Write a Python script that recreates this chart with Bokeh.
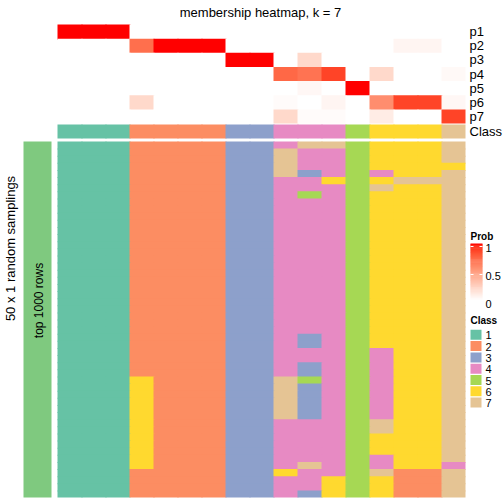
from bokeh.plotting import figure
from bokeh.models import Range1d
from bokeh.core.properties import value
from bokeh.embed import file_html
from bokeh.resources import INLINE
import math

# ---------------- data ----------------
title = "membership heatmap, k = 7"
row_labels = ["p1", "p2", "p3", "p4", "p5", "p6", "p7"]
class_top = [1, 1, 1, 2, 2, 2, 2, 3, 3, 4, 4, 4, 5, 6, 6, 6, 7]
p1 = [1, 1, 1, 0, 0, 0, 0, 0, 0, 0, 0, 0, 0, 0, 0, 0, 0]
p2 = [0, 0, 0, 0.72, 1, 1, 1, 0, 0, 0, 0, 0, 0, 0, 0.05, 0.05, 0]
p3 = [0, 0, 0, 0, 0, 0, 0, 1, 1, 0, 0.2, 0, 0, 0, 0, 0, 0]
p4 = [0, 0, 0, 0, 0, 0, 0, 0, 0, 0.75, 0.7, 0.88, 0, 0.2, 0, 0, 0.03]
p5 = [0, 0, 0, 0, 0, 0, 0, 0, 0, 0, 0.04, 0, 1, 0, 0, 0, 0]
p6 = [0, 0, 0, 0.2, 0, 0, 0, 0, 0, 0.02, 0, 0.05, 0, 0.58, 0.88, 0.88, 0.04]
p7 = [0, 0, 0, 0, 0, 0, 0, 0, 0, 0.2, 0.02, 0.02, 0, 0.1, 0, 0, 0.88]
probs = [p1, p2, p3, p4, p5, p6, p7]

# 50 random samplings x 17 samples (class per cell)
samplings = (
    ["11122223347756667",
     "11122223374456667",
     "11122223374456667",
     "11122223374456666",
     "11122223373454667",
     "11122223344656777",
     "11122223344457667",
     "11122223345456667"]
    + ["11122223344456667"] * 19
    + ["11122223343456667"] * 2
    + ["11122223344454667"] * 2
    + ["11122223343454667"] * 2
    + ["11162223375454667"]
    + ["11162223373454667"] * 5
    + ["11162223344457667"] * 2
    + ["11162223344456667"] * 3
    + ["11162223344454667",
       "11162223347454664",
       "11122223364457227",
       "11122223344656227",
       "11122223344656227",
       "11122223343656227"]
)

class_colors = {1: "#66C2A5", 2: "#FC8D62", 3: "#8DA0CB", 4: "#E78AC3",
                5: "#A6D854", 6: "#FFD92F", 7: "#E5C494"}
legend_ticks = [1, 0.5, 0]
left_label = "50 x 1 random samplings"
group_label = "top 1000 rows"

# ---------------- colour ramp (white -> red in LAB) ----------------
def _srgb2lin(c):
    c = c / 255.0
    return c / 12.92 if c <= 0.04045 else ((c + 0.055) / 1.055) ** 2.4

def _lin2srgb(c):
    c = max(0.0, min(1.0, c))
    v = 12.92 * c if c <= 0.0031308 else 1.055 * c ** (1 / 2.4) - 0.055
    return int(round(v * 255))

WX, WY, WZ = 0.95047, 1.0, 1.08883

def rgb2lab(rgb):
    r, g, b = (_srgb2lin(v) for v in rgb)
    X = 0.4124564 * r + 0.3575761 * g + 0.1804375 * b
    Y = 0.2126729 * r + 0.7151522 * g + 0.0721750 * b
    Z = 0.0193339 * r + 0.1191920 * g + 0.9503041 * b
    def f(t):
        return t ** (1 / 3) if t > 216 / 24389 else (24389 / 27 * t + 16) / 116
    fx, fy, fz = f(X / WX), f(Y / WY), f(Z / WZ)
    return (116 * fy - 16, 500 * (fx - fy), 200 * (fy - fz))

def lab2rgb(lab):
    L, a, b = lab
    fy = (L + 16) / 116
    fx = fy + a / 500
    fz = fy - b / 200
    def finv(t):
        return t ** 3 if t ** 3 > 216 / 24389 else (116 * t - 16) / (24389 / 27)
    X, Y, Z = WX * finv(fx), WY * finv(fy), WZ * finv(fz)
    r = 3.2404542 * X - 1.5371385 * Y - 0.4985314 * Z
    g = -0.9692660 * X + 1.8760108 * Y + 0.0415560 * Z
    bb = 0.0556434 * X - 0.2040259 * Y + 1.0572252 * Z
    return "#%02x%02x%02x" % (_lin2srgb(r), _lin2srgb(g), _lin2srgb(bb))

LAB_W = rgb2lab((255, 255, 255))
LAB_R = rgb2lab((255, 0, 0))

def prob_color(v):
    return lab2rgb(tuple(LAB_W[i] + (LAB_R[i] - LAB_W[i]) * v for i in range(3)))

# ---------------- layout constants (pixels) ----------------
X0, CW = 57, 24
ANN_TOP, AH = 24, 14.15
CLASS_TOP, CLASS_H = 124, 14
MAIN_TOP, MAIN_BOT = 141, 497
RH = (MAIN_BOT - MAIN_TOP) / len(samplings)
OV = 1.0  # overlap so adjacent cells show no seams
FONT = value("Liberation Sans")

p = figure(width=504, height=504, x_range=Range1d(0, 504), y_range=Range1d(504, 0),
           output_backend="svg", toolbar_location=None, tools="", min_border=0)
p.axis.visible = False
p.grid.visible = False
p.outline_line_color = None
p.background_fill_color = "white"
p.border_fill_color = "white"
p.styles = {"position": "absolute", "left": "0px", "top": "0px"}

ncol = len(class_top)

def cell_quads(nrows, top0, rh, color_of):
    L, R, T, B, C = [], [], [], [], []
    for i in range(nrows):
        for j in range(ncol):
            last_col = j == ncol - 1
            last_row = i == nrows - 1
            L.append(X0 + j * CW)
            R.append(X0 + (j + 1) * CW + (0 if last_col else OV))
            T.append(top0 + i * rh)
            B.append(top0 + (i + 1) * rh + (0 if last_row else OV))
            C.append(color_of(i, j))
    return L, R, T, B, C

# probability annotation rows
L, R, T, B, C = cell_quads(len(probs), ANN_TOP, AH, lambda i, j: prob_color(probs[i][j]))
p.quad(left=L, right=R, top=T, bottom=B, fill_color=C, line_color=None)

# class annotation row
L, R, T, B, C = cell_quads(1, CLASS_TOP, CLASS_H, lambda i, j: class_colors[class_top[j]])
p.quad(left=L, right=R, top=T, bottom=B, fill_color=C, line_color=None)

# main heatmap
L, R, T, B, C = cell_quads(len(samplings), MAIN_TOP, RH,
                           lambda i, j: class_colors[int(samplings[i][j])])
p.quad(left=L, right=R, top=T, bottom=B, fill_color=C, line_color=None)

# left group bar
p.quad(left=[23], right=[51], top=[MAIN_TOP], bottom=[MAIN_BOT], fill_color="#7FC97F", line_color=None)
p.text(x=[38.5], y=[300], text=[group_label], angle=math.pi / 2,
       text_font=FONT, text_font_size="12px", text_align="center", text_baseline="middle", text_color="black")
p.text(x=[10], y=[248], text=[left_label], angle=math.pi / 2,
       text_font=FONT, text_font_size="13px", text_align="center", text_baseline="middle", text_color="black")

# title
p.text(x=[260], y=[12], text=[title], text_font=FONT, text_font_size="13px",
       text_align="center", text_baseline="middle", text_color="black")

# row labels
ly = [ANN_TOP + (i + 0.5) * AH for i in range(len(row_labels))] + [CLASS_TOP + CLASS_H / 2]
p.text(x=[469] * len(ly), y=ly, text=row_labels + ["Class"], text_font=FONT, text_font_size="13px",
       text_align="left", text_baseline="middle", text_color="black")

# Prob legend
BAR_T, BAR_B = 243, 299
nstep = 60
vals = [1 - k / nstep for k in range(nstep)]
h = (BAR_B - BAR_T) / nstep
cs = [prob_color(v) for v in vals]
p.quad(left=[470] * nstep, right=[482] * nstep,
       top=[BAR_T + k * h for k in range(nstep)], bottom=[BAR_T + (k + 1) * h + 0.5 for k in range(nstep)],
       fill_color=cs, line_color=None)
tick_y = [246 + (1 - t) * 56 for t in legend_ticks]
for ty, t in zip(tick_y, legend_ticks):
    if t > 0:
        p.segment(x0=[470, 479], y0=[ty, ty], x1=[473, 482], y1=[ty, ty], line_color="white", line_width=1)
p.text(x=[485] * 3, y=[ty + 1.5 for ty in tick_y], text=[str(t) for t in legend_ticks], text_font=FONT,
       text_font_size="11px", text_align="left", text_baseline="middle", text_color="black")
p.text(x=[470], y=[236], text=["Prob"], text_font=FONT, text_font_size="10px", text_font_style="bold",
       text_align="left", text_baseline="middle", text_color="black")

# Class legend
p.text(x=[470], y=[320], text=["Class"], text_font=FONT, text_font_size="10px", text_font_style="bold",
       text_align="left", text_baseline="middle", text_color="black")
keys = sorted(class_colors)
sw_t = [329.3 + k * 11.3 for k in range(len(keys))]
p.quad(left=[470] * len(keys), right=[481] * len(keys), top=sw_t, bottom=[t + 10 for t in sw_t],
       fill_color=[class_colors[k] for k in keys], line_color=None)
p.text(x=[485] * len(keys), y=[t + 5.5 for t in sw_t], text=[str(k) for k in keys], text_font=FONT,
       text_font_size="11px", text_align="left", text_baseline="middle", text_color="black")

open("out.html", "w").write(file_html(p, INLINE))
